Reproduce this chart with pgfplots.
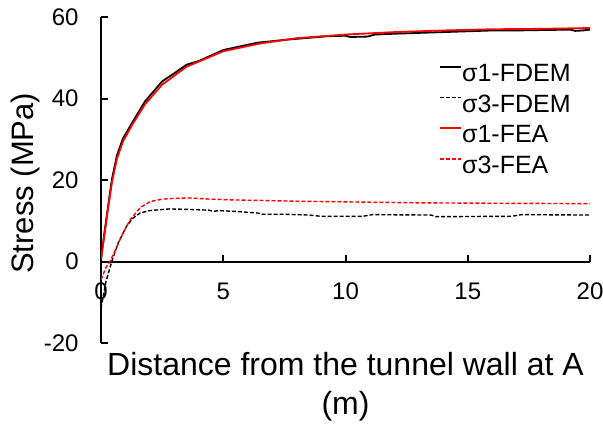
\documentclass[border=0pt]{standalone}
\usepackage{fontspec}
\setmainfont{Liberation Sans}
\usepackage{pgfplots}
\pgfplotsset{compat=1.18}
\begin{document}
\begin{tikzpicture}
\path[use as bounding box] (-50.5pt,-40pt) rectangle (251pt,171.5pt);
\begin{axis}[
  at={(0pt,0pt)}, anchor=south west,
  scale only axis, width=244.5pt, height=163pt,
  xmin=0, xmax=20, ymin=-20, ymax=60,
  axis x line=middle, axis y line=left,
  axis line style={-, line width=1pt},
  hide obscured x ticks=false, hide obscured y ticks=false,
  xtick={0,5,10,15,20}, xticklabels={0,5,10,15,20},
  ytick={-20,0,20,40,60}, yticklabels={-20,0,20,40,60},
  tick align=inside, major tick length=3.5pt,
  tick style={line width=1pt, black},
  ticklabel style={font=\fontsize{12}{14}\selectfont},
  xticklabel style={anchor=base, inner sep=0pt, yshift=-19pt},
  yticklabel style={anchor=east, inner sep=0pt, xshift=-11pt},
  every axis x label/.style={at={(axis description cs:0.5,0)}, anchor=north, align=center,
    inner sep=0pt, yshift=-4.6pt, font=\fontsize{16}{19.2}\selectfont},
  every axis y label/.style={at={(axis description cs:-0.139,0.49)}, rotate=90, anchor=base,
    inner sep=0pt, font=\fontsize{15.5}{19.2}\selectfont},
  xlabel={Distance from the tunnel wall at A\\(m)},
  ylabel={Stress (MPa)},
  legend style={at={(axis description cs:0.691,0.857)}, anchor=north west, draw=none, fill=none,
    inner sep=0pt, row sep=5.2pt, font=\fontsize{12.5}{14}\selectfont,
    nodes={inner sep=0pt},
    /tikz/every even column/.append style={column sep=0pt}},
  legend image code/.code={\draw[#1] (0pt,3.6pt) -- (10.5pt,3.6pt);},
  legend cell align=left,
]
% sigma1 FDEM
\addplot[black, line width=0.9pt] coordinates {
(0,0.5)(0.15,7.5)(0.3,14)(0.45,20.3)(0.65,26)(0.9,30.2)(1.3,34.3)(1.8,39.3)(2.5,44.2)
(3,46.2)(3.5,48.3)(4,49.2)(5,51.9)(6.4,53.7)(7.7,54.5)(8.5,54.9)(9.3,55.3)(10,55.4)
(10.2,55.1)(10.9,55.2)(11.2,55.7)(12,55.9)(13,56.1)(14,56.3)(15,56.5)(16,56.7)(17,56.7)
(18,56.8)(19.2,56.9)(19.4,56.6)(19.7,56.7)(20,56.9)};
\addlegendentry{σ1-FDEM}
% sigma3 FDEM
\addplot[black, line width=0.7pt, dash pattern=on 2pt off 1pt] coordinates {
(0,-11.5)(0.2,-5)(0.44,0)(0.7,4.5)(1.05,8.7)(1.3,10.6)(1.6,11.9)(2,12.5)(2.8,12.9)
(3.5,12.8)(4.4,12.6)(4.6,12.3)(4.8,12.5)(5.5,12.3)(6.4,11.9)(6.6,11.6)(7.5,11.6)
(8.5,11.4)(9,11.1)(10.7,11.1)(11.1,11.5)(13.5,11.4)(13.7,11.0)(16.8,11.1)(17.2,11.5)(20,11.4)};
\addlegendentry{σ3-FDEM}
% sigma1 FEA
\addplot[red, line width=0.9pt] coordinates {
(0,0.5)(0.15,7)(0.3,13.5)(0.45,19.5)(0.65,25.2)(0.9,29.5)(1.3,33.8)(1.8,38.6)(2.5,43.4)
(3.5,47.8)(5,51.6)(6.5,53.5)(8,54.8)(10,55.7)(12,56.3)(14,56.7)(16,57.0)(18,57.1)(20,57.3)};
\addlegendentry{σ1-FEA}
% sigma3 FEA
\addplot[red, line width=0.7pt, dash pattern=on 2pt off 1pt] coordinates {
(0,-4.5)(0.2,-1.5)(0.37,0)(0.6,3)(0.9,7)(1.2,10.3)(1.6,13.2)(2,14.7)(2.5,15.3)(3,15.5)
(3.6,15.6)(4.5,15.3)(5.5,15.1)(6.4,15)(8,14.8)(10.4,14.6)(13,14.4)(16,14.3)(20,14.2)};
\addlegendentry{σ3-FEA}
\end{axis}
\end{tikzpicture}
\end{document}
